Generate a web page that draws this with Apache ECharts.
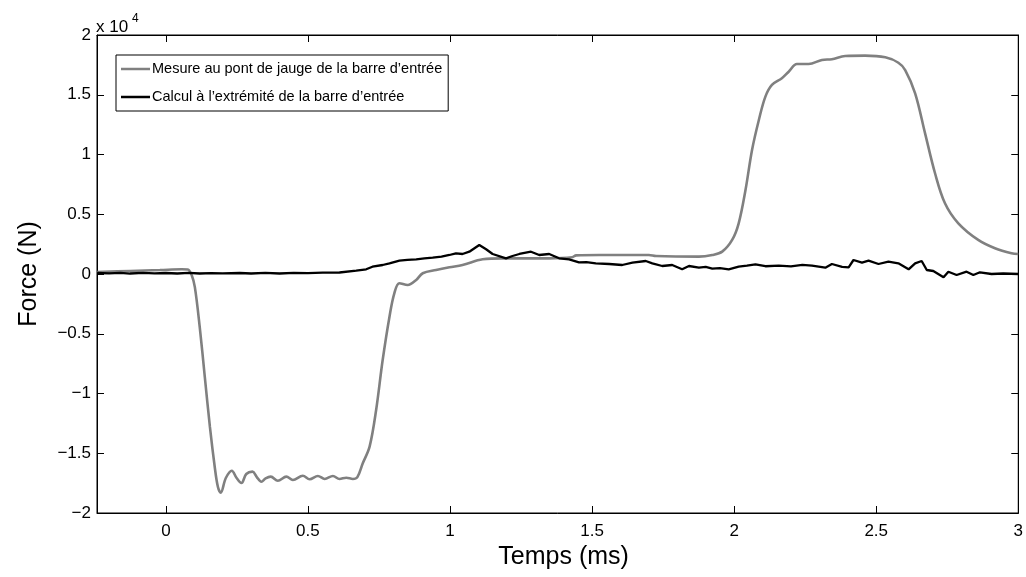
<!DOCTYPE html>
<html>
<head>
<meta charset="utf-8">
<script src="https://cdn.jsdelivr.net/npm/echarts@6/dist/echarts.min.js"></script>
<style>
html,body{margin:0;padding:0;background:#fff;}
#chart{width:1026px;height:577px;}
</style>
</head>
<body>
<div id="chart"></div>
<script>
// ---- Data (time in ms, force in N) ----
const legendNames = ["Mesure au pont de jauge de la barre d\u2019entrée", "Calcul à l\u2019extrémité de la barre d\u2019entrée"];
const xTicks = [0, 0.5, 1, 1.5, 2, 2.5, 3];
const yTicks = [-20000, -15000, -10000, -5000, 0, 5000, 10000, 15000, 20000];

const timeGray = [-0.242,-0.126,-0.021,0.056,0.077,0.091,0.102,0.119,0.137,0.155,0.172,0.183,0.193,0.211,0.232,0.249,0.266,0.283,0.305,0.320,0.336,0.351,0.369,0.394,0.424,0.447,0.482,0.506,0.535,0.559,0.588,0.611,0.635,0.658,0.674,0.693,0.717,0.740,0.763,0.787,0.804,0.822,0.851,0.881,0.904,0.951,0.998,1.044,1.115,1.184,1.279,1.349,1.430,1.444,1.525,1.700,1.725,1.876,1.923,1.958,1.993,2.016,2.040,2.063,2.087,2.110,2.133,2.168,2.192,2.221,2.262,2.309,2.344,2.391,2.461,2.532,2.578,2.602,2.637,2.672,2.707,2.742,2.789,2.859,2.918,2.976,3.0];
const forceGray = [170,250,330,400,380,-100,-1100,-4400,-8600,-12800,-16150,-17800,-18300,-17070,-16460,-17070,-17490,-16736,-16540,-16990,-17380,-17100,-16960,-17300,-16960,-17240,-16880,-17180,-16900,-17150,-16900,-17150,-17050,-17150,-17000,-15840,-14450,-11380,-7200,-3570,-1615,-780,-920,-500,60,335,560,750,1230,1310,1310,1310,1400,1560,1590,1590,1500,1450,1590,1870,2850,4240,7030,10380,12890,14840,15820,16380,16930,17570,17570,17910,17970,18240,18270,18130,17680,17070,15120,11770,8430,5920,4240,2850,2150,1730,1670];

const timeBlack = [-0.242,-0.2,-0.16,-0.126,-0.08,-0.04,0,0.04,0.08,0.119,0.16,0.2,0.26,0.3,0.35,0.4,0.45,0.5,0.552,0.611,0.670,0.705,0.727,0.763,0.787,0.822,0.850,0.881,0.910,0.939,0.970,0.998,1.021,1.044,1.068,1.103,1.127,1.150,1.197,1.220,1.244,1.285,1.314,1.349,1.384,1.419,1.454,1.480,1.513,1.560,1.606,1.642,1.689,1.712,1.747,1.782,1.817,1.841,1.876,1.900,1.923,1.950,1.981,2.016,2.045,2.075,2.110,2.157,2.200,2.240,2.274,2.321,2.344,2.380,2.403,2.420,2.450,2.473,2.508,2.543,2.578,2.614,2.637,2.660,2.678,2.701,2.737,2.754,2.783,2.818,2.842,2.865,2.906,2.947,3.0];
const forceBlack = [84,60,100,40,90,50,84,40,90,40,80,60,84,40,90,40,100,70,110,125,276,393,611,753,895,1113,1180,1230,1300,1364,1450,1590,1732,1674,1866,2427,2067,1674,1314,1506,1674,1866,1590,1674,1314,1230,979,1000,895,837,753,946,1088,895,669,753,393,669,527,600,444,500,393,611,700,812,650,695,640,760,695,527,837,600,561,1171,946,1113,837,1029,895,393,895,1088,335,251,-276,192,-84,192,-84,142,0,40,0];

const grayData = timeGray.map((t, i) => [t, forceGray[i]]);
const blackData = timeBlack.map((t, i) => [t, forceBlack[i]]);

const FONT = "'Liberation Sans',Arial,Helvetica,sans-serif";
const XMIN = -0.2424, XMAX = 3, YMIN = -20000, YMAX = 20000;

function fmtY(v) {
  const s = String(+(v / 10000).toFixed(2));
  return s.replace('-', '\u2212');
}

const chart = echarts.init(document.getElementById('chart'), null, {renderer: 'canvas'});
const axisCommon = {
  axisLine: {show: true, onZero: false, lineStyle: {color: '#000', width: 1}},
  splitLine: {show: false}
};
chart.setOption({
  animation: false,
  backgroundColor: '#fff',
  grid: {left: 97, right: 6, top: 35, bottom: 64, show: true, borderColor: '#000', borderWidth: 1, containLabel: false},
  legend: {
    orient: 'vertical', left: 116, top: 55,
    data: legendNames.map(n => ({name: n, icon: 'rect'})),
    itemWidth: 29, itemHeight: 2.5, itemGap: 8,
    padding: [4, 6, 4, 5],
    borderColor: '#000', borderWidth: 1, backgroundColor: '#fff',
    textStyle: {fontFamily: FONT, fontSize: 14.5, color: '#000', lineHeight: 20, padding: [0,0,0,-3]}
  },
  xAxis: [{
    type: 'value', min: XMIN, max: XMAX, position: 'bottom',
    name: 'Temps (ms)', nameLocation: 'middle', nameGap: 32,
    nameTextStyle: {fontFamily: FONT, fontSize: 25, color: '#000', padding: [0, 0, 0, 12]},
    axisTick: {show: true, inside: true, length: 7, lineStyle: {color: '#000'}, customValues: xTicks},
    axisLabel: {show: true, color: '#000', fontFamily: FONT, fontSize: 17, margin: 10, customValues: xTicks,
      formatter: v => String(v)},
    ...axisCommon
  }, {
    type: 'value', min: XMIN, max: XMAX, position: 'top',
    axisTick: {show: true, inside: true, length: 7, lineStyle: {color: '#000'}, customValues: xTicks},
    axisLabel: {show: false},
    ...axisCommon
  }],
  yAxis: [{
    type: 'value', min: YMIN, max: YMAX, interval: 5000, position: 'left',
    name: 'Force (N)', nameLocation: 'middle', nameGap: 55, nameRotate: 90,
    nameTextStyle: {fontFamily: FONT, fontSize: 25, color: '#000'},
    axisTick: {show: true, inside: true, length: 7, lineStyle: {color: '#000'}},
    axisLabel: {show: true, color: '#000', fontFamily: FONT, fontSize: 17, margin: 6, formatter: fmtY},
    ...axisCommon
  }, {
    type: 'value', min: YMIN, max: YMAX, interval: 5000, position: 'right',
    axisTick: {show: true, inside: true, length: 7, lineStyle: {color: '#000'}},
    axisLabel: {show: false},
    ...axisCommon
  }],
  graphic: [
    {type: 'text', left: 96, top: 19, style: {text: 'x 10', font: "17px " + FONT, fill: '#000'}},
    {type: 'text', left: 132, top: 13, style: {text: '4', font: "12px " + FONT, fill: '#000'}}
  ],
  series: [{
    name: legendNames[0], type: 'line', data: grayData, xAxisIndex: 0, yAxisIndex: 0,
    symbol: 'none', smooth: 0.35, clip: true,
    lineStyle: {color: '#808080', width: 2.6}, itemStyle: {color: '#808080'}, z: 2
  }, {
    name: legendNames[1], type: 'line', data: blackData, xAxisIndex: 0, yAxisIndex: 0,
    symbol: 'none', smooth: false, clip: true,
    lineStyle: {color: '#000', width: 2.3}, itemStyle: {color: '#000'}, z: 3
  }]
});
</script>
</body>
</html>
